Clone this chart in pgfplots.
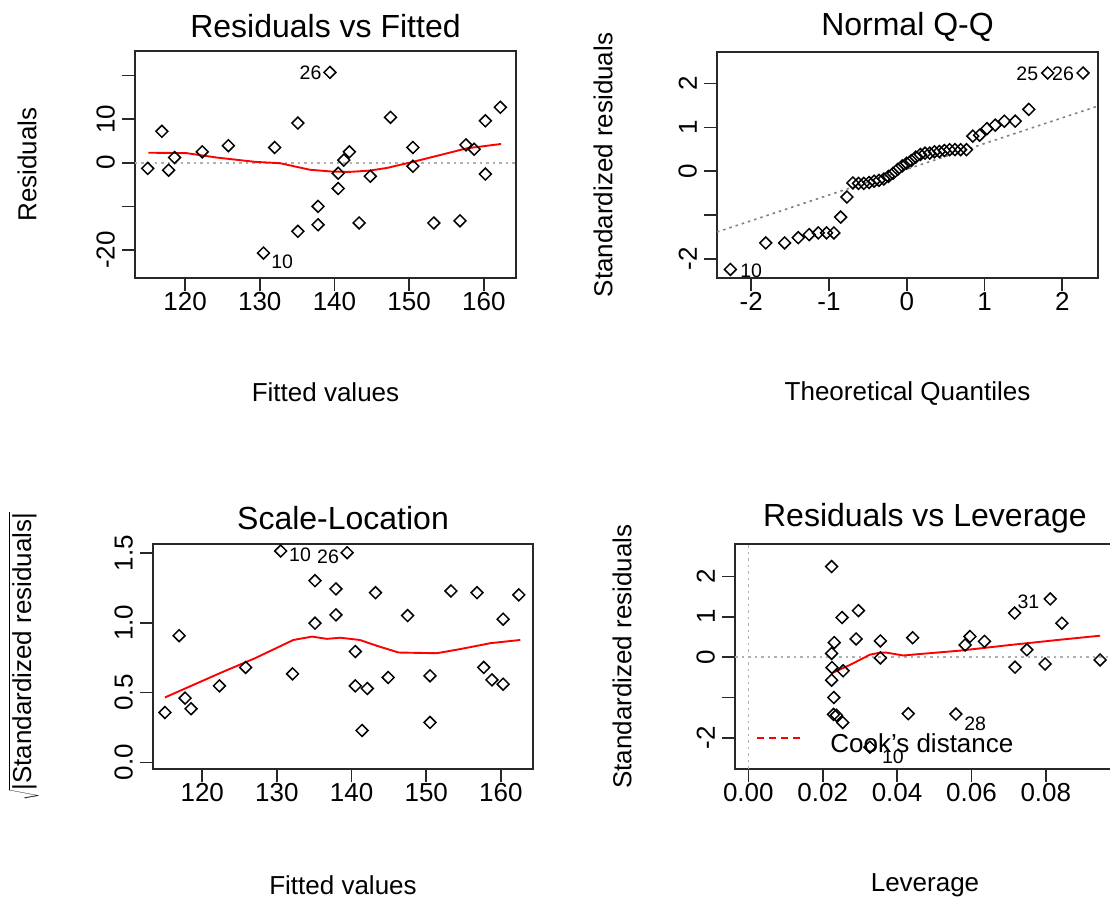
\documentclass[border=0pt]{standalone}
\usepackage{fontspec}
\setmainfont{Liberation Sans}
\usepackage{pgfplots}
\pgfplotsset{compat=1.18}
\definecolor{boxc}{RGB}{40,40,40}
\definecolor{refgray}{RGB}{175,175,175}
\definecolor{qqgray}{RGB}{128,128,128}
\tikzset{idlab/.style={font=\fontsize{19.5}{22}\selectfont, inner sep=0pt}}
\pgfplotsset{
  rplot/.style={
    scale only axis,
    axis line style={line width=1.6pt, boxc},
    every tick/.style={boxc, line width=1.6pt},
    tick align=outside,
    major tick length=13pt,
    xtick pos=left, ytick pos=left,
    scaled x ticks=false, scaled y ticks=false,
    tick label style={font=\fontsize{26}{30}\selectfont},
    xticklabel style={inner sep=1pt},
    yticklabel style={rotate=90, anchor=south, inner sep=7pt},
    label style={font=\fontsize{26}{30}\selectfont},
    title style={font=\fontsize{32}{36}\selectfont, at={(axis description cs:0.5,1)}, anchor=center},
    xlabel style={anchor=center},
    ylabel style={anchor=center},
    clip=false,
  },
  pts/.style={only marks, mark=square, mark size=4.2pt, mark options={rotate=45, line width=1.5pt, draw=black, fill=none}},
  loess/.style={no marks, red, line width=1.9pt},
  refl/.style={no marks, refgray, line width=1.6pt, dash pattern=on 2.5pt off 4pt},
}
\begin{document}
\begin{tikzpicture}
\path[use as bounding box] (0,0) rectangle (1110pt,901pt);

% ---------------- Residuals vs Fitted ----------------
\begin{axis}[rplot, at={(135pt,623pt)}, anchor=south west, width=381pt, height=227pt,
  xmin=113.3, xmax=164.3, ymin=-26.4, ymax=25.6,
  xtick={120,130,140,150,160}, xticklabels={120,130,140,150,160},
  ytick={-20,-10,0,10,20}, yticklabels={-20,,0,10,},
  title={Residuals vs Fitted}, title style={yshift=19pt},
  xlabel={Fitted values}, xlabel style={at={(axis description cs:0.5,-0.502)}},
  ylabel={Residuals}, ylabel style={at={(axis description cs:-0.2835,0.5)}},
]
\addplot[refl] coordinates {(113.3,0) (164.3,0)};
\addplot[pts] coordinates {
(115.0,-1.3) (116.9,7.2) (117.8,-1.7) (118.6,1.2) (122.3,2.5) (125.8,3.9)
(130.5,-20.7) (132.0,3.5) (135.1,9.1) (135.1,-15.7) (137.8,-10.0) (137.8,-14.2)
(139.4,20.7) (140.5,-2.4) (140.5,-5.9) (141.25,0.6) (142.0,2.5) (143.3,-13.8)
(144.8,-3.1) (147.5,10.4) (150.5,3.5) (150.5,-0.8) (153.3,-13.8) (156.8,-13.3)
(157.6,4.1) (158.7,3.1) (160.2,9.6) (160.2,-2.6) (162.2,12.7)};
\addplot[loess] coordinates {
(115.1,2.3) (120.2,2.2) (124.2,1.2) (129.4,0.2) (132.7,-0.1) (136.7,-1.6)
(139.5,-2.0) (142.0,-2.1) (144.7,-1.8) (147.0,-1.2) (150.5,0.2) (154.0,1.7)
(157.7,3.3) (162.3,4.3)};
\node[idlab] at (axis cs:136.8,20.6) {26};
\node[idlab] at (axis cs:133.0,-22.8) {10};
\end{axis}

% ---------------- Normal Q-Q ----------------
\begin{axis}[rplot, at={(717pt,623pt)}, anchor=south west, width=381pt, height=226pt,
  xmin=-2.44, xmax=2.46, ymin=-2.44, ymax=2.72,
  xtick={-2,-1,0,1,2}, xticklabels={-2,-1,0,1,2},
  ytick={-2,-1,0,1,2}, yticklabels={-2,,0,1,2},
  title={Normal Q-Q}, title style={yshift=19pt},
  xlabel={Theoretical Quantiles}, xlabel style={at={(axis description cs:0.5,-0.51)}},
  ylabel={Standardized residuals}, ylabel style={at={(axis description cs:-0.299,0.5)}},
]
\addplot[no marks, qqgray, line width=1.6pt, dash pattern=on 2.5pt off 4pt] coordinates {(-2.44,-1.39) (2.46,1.486)};
\addplot[pts] coordinates {
(-2.268,-2.245) (-1.813,-1.64) (-1.570,-1.64) (-1.395,-1.52) (-1.255,-1.45)
(-1.137,-1.41) (-1.031,-1.41) (-0.937,-1.41) (-0.850,-1.05) (-0.769,-0.59)
(-0.693,-0.27) (-0.620,-0.28) (-0.552,-0.28) (-0.485,-0.26) (-0.420,-0.23)
(-0.357,-0.21) (-0.295,-0.18) (-0.235,-0.12) (-0.175,-0.05) (-0.117,0.04)
(-0.058,0.12) (0,0.18) (0.058,0.24) (0.117,0.32) (0.175,0.38) (0.235,0.41)
(0.295,0.41) (0.357,0.44) (0.420,0.45) (0.485,0.47) (0.552,0.49) (0.620,0.49)
(0.693,0.49) (0.769,0.49) (0.850,0.80) (0.937,0.82) (1.031,0.97) (1.137,1.05)
(1.255,1.14) (1.395,1.14) (1.570,1.41) (1.813,2.24) (2.268,2.24)};
\node[idlab] at (axis cs:-2.00,-2.27) {10};
\node[idlab] at (axis cs:1.55,2.23) {25};
\node[idlab] at (axis cs:2.01,2.23) {26};
\end{axis}

% ---------------- Scale-Location ----------------
\begin{axis}[rplot, at={(153pt,132pt)}, anchor=south west, width=380pt, height=225pt,
  xmin=113.4, xmax=164.3, ymin=-0.048, ymax=1.565,
  xtick={120,130,140,150,160}, xticklabels={120,130,140,150,160},
  ytick={0,0.5,1,1.5}, yticklabels={0.0,0.5,1.0,1.5},
  title={Scale-Location}, title style={yshift=20pt},
  xlabel={Fitted values}, xlabel style={at={(axis description cs:0.5,-0.516)}},
  ylabel={$\sqrt{\mbox{|Standardized residuals|}}$}, ylabel style={at={(axis description cs:-0.34,0.5)}},
]
\addplot[pts] coordinates {
(115.0,0.357) (116.9,0.908) (117.7,0.46) (118.5,0.384) (122.3,0.548) (125.8,0.68)
(130.5,1.515) (132.1,0.634) (135.1,1.302) (135.1,0.997) (137.9,1.243) (137.9,1.057)
(139.4,1.503) (140.5,0.794) (140.5,0.548) (142.1,0.529) (141.4,0.228) (143.2,1.216)
(144.9,0.608) (147.5,1.052) (150.5,0.62) (150.5,0.286) (153.3,1.228) (156.8,1.216)
(157.7,0.68) (158.8,0.591) (160.3,1.026) (160.3,0.56) (162.4,1.2)};
\addplot[loess] coordinates {
(115.0,0.465) (122.4,0.64) (127.1,0.747) (132.2,0.877) (134.7,0.901) (136.7,0.885)
(138.5,0.893) (141.1,0.877) (143.4,0.835) (146.3,0.787) (151.4,0.782) (154.5,0.811)
(158.6,0.854) (162.6,0.877)};
\node[idlab] at (axis cs:133.1,1.486) {10};
\node[idlab] at (axis cs:136.85,1.472) {26};
\end{axis}

% ---------------- Residuals vs Leverage ----------------
\begin{axis}[rplot, at={(735pt,132pt)}, anchor=south west, width=380pt, height=225pt,
  xmin=-0.00358, xmax=0.0986, ymin=-2.77, ymax=2.80,
  xtick={0,0.02,0.04,0.06,0.08}, xticklabels={0.00,0.02,0.04,0.06,0.08},
  ytick={-2,-1,0,1,2}, yticklabels={-2,,0,1,2},
  title={Residuals vs Leverage}, title style={yshift=20pt},
  xlabel={Leverage}, xlabel style={at={(axis description cs:0.5,-0.516)}},
  ylabel={Standardized residuals}, ylabel style={at={(axis description cs:-0.297,0.5)}},
]
\addplot[refl] coordinates {(-0.00358,0) (0.0986,0)};
\addplot[refl] coordinates {(0,-2.77) (0,2.80)};
\addplot[pts] coordinates {
(0.0224,2.24) (0.0252,0.98) (0.0296,1.15) (0.0231,0.36) (0.0224,0.09) (0.0225,-0.26)
(0.0224,-0.57) (0.0255,-0.34) (0.0290,0.45) (0.0355,0.40) (0.0355,-0.02) (0.0230,-1.0)
(0.0229,-1.42) (0.0237,-1.44) (0.0254,-1.62) (0.0327,-2.23) (0.0430,-1.40) (0.0442,0.48)
(0.0558,-1.41) (0.0583,0.30) (0.0596,0.51) (0.0635,0.39) (0.0716,1.09) (0.0717,-0.25)
(0.0749,0.18) (0.0798,-0.17) (0.0812,1.44) (0.0843,0.84) (0.0946,-0.07)};
\addplot[loess] coordinates {
(0.0224,-0.40) (0.0274,-0.19) (0.0327,0.06) (0.0354,0.11) (0.0372,0.11) (0.0417,0.04)
(0.0453,0.07) (0.0569,0.16) (0.0704,0.30) (0.0838,0.43) (0.0946,0.53)};
\node[idlab] at (axis cs:0.0389,-2.47) {10};
\node[idlab] at (axis cs:0.061,-1.66) {28};
\node[idlab] at (axis cs:0.0753,1.38) {31};
\addplot[no marks, red, line width=1.6pt, dash pattern=on 7pt off 5pt] coordinates {(0.0024,-2.0) (0.0139,-2.0)};
\node[font=\fontsize{26}{30}\selectfont, anchor=west, inner sep=0pt] at (axis cs:0.022,-2.12) {Cook's distance};
\end{axis}
\end{tikzpicture}
\end{document}
